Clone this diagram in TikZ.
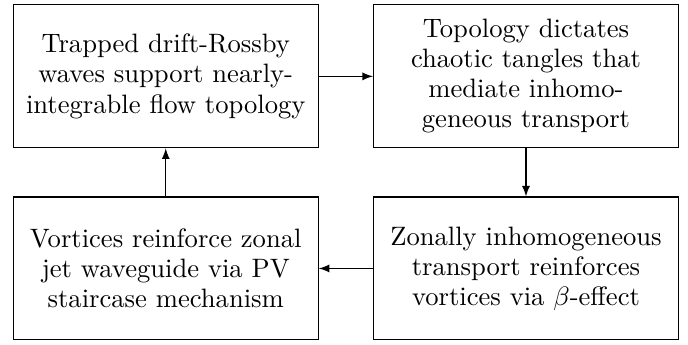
\documentclass[tikz,border=0pt]{standalone}
\usetikzlibrary{arrows}
\begin{document}
\begin{tikzpicture}[x=1pt,y=1pt,
  box/.style={draw, line width=0.4pt, minimum width=114.6pt, minimum height=53.7pt,
    align=center, inner sep=0pt, font=\fontsize{10}{11.3}\selectfont},
  link/.style={-latex, line width=0.4pt}]
\useasboundingbox (0,0) rectangle (258.6,129.3);
\node[box] (a) at (62.3,100.6) {Trapped drift-Rossby\\waves support nearly-\\integrable flow topology};
\node[box] (b) at (197.7,100.6) {Topology dictates\\chaotic tangles that\\mediate inhomo-\\geneous transport};
\node[box] (c) at (197.7,28.4) {Zonally inhomogeneous\\transport reinforces\\vortices via $\beta$-effect};
\node[box] (d) at (62.3,28.4) {Vortices reinforce zonal\\jet waveguide via PV\\staircase mechanism};
\draw[link] (a) -- (b);
\draw[link] (b) -- (c);
\draw[link] (c) -- (d);
\draw[link] (d) -- (a);
\end{tikzpicture}
\end{document}
